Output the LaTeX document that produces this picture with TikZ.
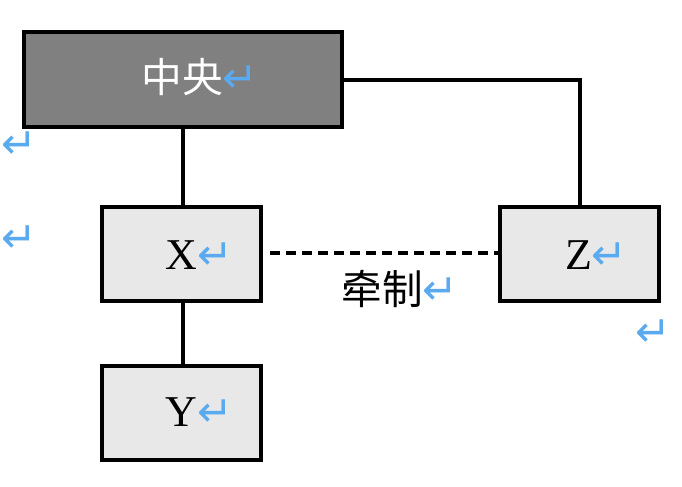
\documentclass[tikz,border=0pt]{standalone}
\usepackage{fontspec}
\setmainfont{Liberation Serif}
\newfontfamily\cjkfont{Noto Sans CJK SC}
\newfontfamily\symfont{DejaVu Sans}
\definecolor{retblue}{RGB}{90,170,240}
\definecolor{boxgray}{RGB}{128,128,128}
\definecolor{boxlight}{RGB}{232,232,232}
\newcommand{\retmark}{{\symfont\fontsize{32}{32}\selectfont\textcolor{retblue}{↵}}}
\tikzset{
  orgbox/.style={draw=black, line width=2.5pt, fill=boxlight, minimum width=159*0.75pt, minimum height=94*0.75pt, inner sep=0pt},
  topbox/.style={orgbox, fill=boxgray, minimum width=318*0.75pt, minimum height=95*0.75pt},
  link/.style={line width=2.5pt},
  dlink/.style={line width=2.3pt, dash pattern=on 7.5pt off 4.5pt},
  lettertext/.style={font=\fontsize{33}{33}\selectfont},
  cjktext/.style={font=\cjkfont\fontsize{30.5}{30.5}\selectfont},
}
\begin{document}
\begin{tikzpicture}[x=0.75pt,y=-0.75pt]
\useasboundingbox (0,0) rectangle (682,486);
\node[topbox] (c) at (183,79.5) {};
\node[cjktext, text=white] (ct) at (182,77) {中央\rlap{\retmark}};
\node[orgbox] (x) at (181.5,254) {};
\node[lettertext] (xt) at (181.5,255) {X\rlap{\retmark}};
\node[orgbox] (y) at (181.5,413) {};
\node[lettertext] (yt) at (181.5,412) {Y\rlap{\retmark}};
\node[orgbox] (z) at (579.5,254) {};
\node[lettertext] (zt) at (578.5,255) {Z\rlap{\retmark}};
\coordinate (zc) at (580,80);
\coordinate (ds) at (270,253);
\draw[link] (c.south -| 183,0) -- (x.north -| 183,0);
\draw[link] (x.south -| 183,0) -- (y.north -| 183,0);
\draw[link] (c.east |- zc) -- (zc) -- (z.north -| zc);
\draw[dlink] (ds) -- (z.west |- ds);
\node[cjktext] (lbl) at (382,289) {牵制\rlap{\retmark}};
\node[inner sep=0pt] (r1) at (19,145) {\retmark};
\node[inner sep=0pt] (r2) at (19,239) {\retmark};
\node[inner sep=0pt] (r3) at (653,333) {\retmark};
\end{tikzpicture}
\end{document}
